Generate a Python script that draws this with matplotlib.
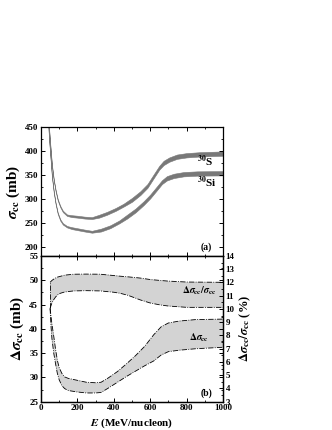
import matplotlib.pyplot as plt
from matplotlib.ticker import MultipleLocator

plt.rcParams["font.family"] = ["Liberation Serif", "DejaVu Serif"]
plt.rcParams["mathtext.fontset"] = "stix"
plt.rcParams["font.weight"] = "bold"

# panel (a): sigma_cc bands (mb)
e_s = [40, 45, 52, 60, 70, 80, 92, 106, 120, 143, 170, 198, 240, 280, 320, 363, 410,
       454, 500, 546, 585, 619, 650, 674, 705, 747, 800, 875, 1000]
s_lo = [462.5, 440.5, 405.5, 368.5, 338.5, 316.5, 296.5, 282.5, 272.5, 264.5, 262, 261, 259, 258,
        261, 267, 275, 284, 294, 308, 323, 343, 361, 370.5, 377.5, 383.5, 386.5, 388.5, 390]
s_hi = [465.5, 443.5, 408.5, 371.5, 341.5, 319.5, 299.5, 285.5, 275.5, 267.5, 266, 265, 263, 262,
        267, 273, 281, 290, 302, 316, 331, 351, 369, 379.5, 386.5, 392.5, 395.5, 397.5, 399]

e_si = [40, 45, 52, 60, 70, 80, 92, 106, 120, 143, 170, 198, 240, 280, 330, 381, 430,
        473, 520, 564, 600, 637, 665, 692, 730, 784, 860, 1000]
si_lo = [452.5, 420.5, 385.5, 345.5, 313.5, 289.5, 268.5, 254.5, 246.5, 240.5, 237, 235, 232, 229.5,
         232, 239, 249, 259, 272, 287, 301, 318, 331, 338.5, 343.5, 347, 348.5, 349]
si_hi = [455.5, 423.5, 388.5, 348.5, 316.5, 292.5, 271.5, 257.5, 249.5, 243.5, 241, 239, 236, 233.5,
         238, 245, 255, 267, 280, 295, 309, 326, 339, 347.5, 352.5, 356, 357.5, 358]

# panel (b): delta sigma_cc (mb), left axis
e_d = [50, 55, 60, 70, 80, 90, 100, 115, 130, 150, 200, 250, 300, 330, 370, 420, 470,
       520, 570, 620, 660, 700, 760, 850, 1000]
d_hi = [44.2, 42.6, 41.0, 38.5, 35.8, 33.5, 32.0, 30.8, 30.1, 29.8, 29.4, 29.0, 28.9, 29.0, 29.9,
        31.2, 32.8, 34.5, 36.4, 38.8, 40.4, 41.2, 41.6, 41.9, 42.0]
d_lo = [44.2, 40.5, 38.0, 35.0, 32.8, 30.8, 29.5, 28.3, 27.7, 27.3, 27.0, 26.8, 26.8, 26.9, 27.8,
        29.0, 30.2, 31.3, 32.4, 33.4, 34.6, 35.3, 35.6, 35.9, 36.2]

# panel (b): delta sigma / sigma (%), right axis
e_r = [50, 60, 70, 80, 90, 106, 130, 180, 250, 326, 400, 436, 480, 546, 600, 656, 700, 802, 1000]
r_hi = [12.01, 12.15, 12.25, 12.33, 12.40, 12.46, 12.55, 12.62, 12.63, 12.62, 12.52, 12.47,
        12.42, 12.33, 12.22, 12.15, 12.10, 12.03, 12.01]
r_lo = [10.05, 10.45, 10.70, 10.90, 11.05, 11.18, 11.28, 11.36, 11.38, 11.36, 11.26, 11.18,
        11.02, 10.68, 10.45, 10.30, 10.22, 10.12, 10.12]

fig = plt.figure(figsize=(3.32, 4.30), dpi=100)
ax1 = fig.add_axes([0.1235, 0.4047, 0.548, 0.300])
ax2 = fig.add_axes([0.1235, 0.0658, 0.548, 0.339])

band_c = "#787878"
ax1.fill_between(e_s, s_lo, s_hi, facecolor=band_c, edgecolor=band_c, lw=0.4)
ax1.fill_between(e_si, si_lo, si_hi, facecolor=band_c, edgecolor=band_c, lw=0.4)
ax1.set_xlim(0, 1000)
ax1.set_ylim(181, 450)
ax1.yaxis.set_major_locator(MultipleLocator(50))
ax1.yaxis.set_minor_locator(MultipleLocator(25))
ax1.xaxis.set_major_locator(MultipleLocator(200))
ax1.xaxis.set_minor_locator(MultipleLocator(100))
ax1.tick_params(labelbottom=False)
ax1.set_ylabel(r"$\sigma_{\rm cc}$ (mb)", fontsize=11, fontweight="bold", labelpad=2)
ax1.text(860, 368, r"$^{\mathbf{30}}$S", fontsize=8, fontweight="bold")
ax1.text(860, 326, r"$^{\mathbf{30}}$Si", fontsize=8, fontweight="bold")
ax1.text(880, 193, "(a)", fontsize=7, fontweight="bold")

fill_c = "#d3d3d3"
ax2.fill_between(e_d, d_lo, d_hi, facecolor=fill_c, edgecolor="none")
ax2.plot(e_d, d_hi, color="black", lw=0.6, ls="-.")
ax2.plot(e_d, d_lo, color="black", lw=0.6, ls="-.")
ax2.set_xlim(0, 1000)
ax2.set_ylim(25, 55)
ax2.xaxis.set_major_locator(MultipleLocator(200))
ax2.xaxis.set_minor_locator(MultipleLocator(100))
ax2.yaxis.set_major_locator(MultipleLocator(5))
ax2.yaxis.set_minor_locator(MultipleLocator(2.5))
ax2.set_ylabel(r"$\Delta\sigma_{\rm cc}$ (mb)", fontsize=11, fontweight="bold", labelpad=2)
ax2.set_xlabel(r"$E$ (MeV/nucleon)", fontsize=8, fontweight="bold", labelpad=3)
ax2.text(870, 37.5, r"$\Delta\sigma_{\rm cc}$", fontsize=7, ha="center")
ax2.text(880, 26.3, "(b)", fontsize=7, fontweight="bold")

ax3 = ax2.twinx()
ax3.fill_between(e_r, r_lo, r_hi, facecolor=fill_c, edgecolor="none")
ax3.plot(e_r, r_hi, color="black", lw=0.6, ls="-.")
ax3.plot(e_r, r_lo, color="black", lw=0.6, ls="-.")
ax3.plot([e_r[0], e_r[0]], [r_lo[0], r_hi[0]], color="black", lw=0.6, ls="-.")
ax3.set_ylim(3, 14)
ax3.yaxis.set_major_locator(MultipleLocator(1))
ax3.yaxis.set_minor_locator(MultipleLocator(0.5))
ax3.set_ylabel(r"$\Delta\sigma_{\rm cc}/\sigma_{\rm cc}$ (%)", fontsize=9, fontweight="bold", labelpad=2)
ax3.text(870, 11.2, r"$\Delta\sigma_{\rm cc}/\sigma_{\rm cc}$", fontsize=7, ha="center")

for ax in (ax1, ax2):
    ax.tick_params(which="both", direction="in", top=True, right=True, labelsize=6.5, pad=2)
    ax.tick_params(which="major", length=3, width=0.7)
    ax.tick_params(which="minor", length=1.5, width=0.6)
ax3.tick_params(which="both", direction="in", labelsize=6.5, pad=2)
ax3.tick_params(which="major", length=3, width=0.7)
ax3.tick_params(which="minor", length=1.5, width=0.6)
for ax in (ax1, ax2, ax3):
    for sp in ax.spines.values():
        sp.set_linewidth(0.9)
    for lab in ax.get_xticklabels() + ax.get_yticklabels():
        lab.set_fontweight("bold")

fig.savefig("out.png", dpi=100)
